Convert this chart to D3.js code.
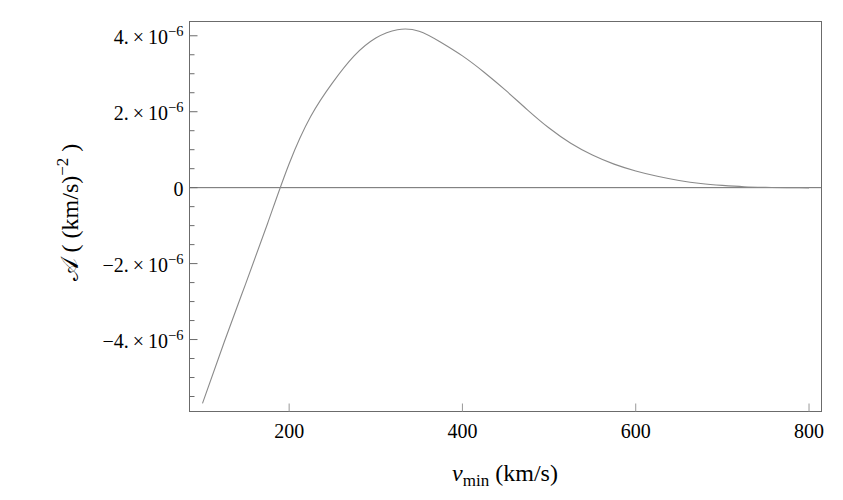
<!DOCTYPE html>
<html>
<head>
<meta charset="utf-8">
<script src="https://cdn.jsdelivr.net/npm/d3@7"></script>
<style>
  body { margin: 0; background: #fff; }
  text { font-family: "Liberation Serif", "Times New Roman", serif; fill: #000; }
</style>
</head>
<body>
<svg id="chart" width="843" height="500"></svg>
<script>
// data (A in units of 1e-6 (km/s)^-2)
var vmin = [100,125,150,175,200,225,250,275,300,325,350,375,400,425,450,475,500,525,550,575,600,625,650,675,700,725,750,775,800];
var amp  = [-5.68,-4.07,-2.52,-0.95,0.63,1.88,2.76,3.47,3.94,4.16,4.12,3.83,3.47,3.04,2.56,2.05,1.57,1.17,0.86,0.62,0.44,0.30,0.19,0.11,0.06,0.025,0.008,-0.002,-0.005];
var xTicks = [200,400,600,800];
var yTicks = [-4,-2,0,2,4];

var svg = d3.select("#chart");
var fLeft = 189.5, fRight = 821.5, fTop = 21.5, fBottom = 411.5;

var x = d3.scaleLinear().domain([85, 814.4]).range([fLeft, fRight]);
var y = d3.scaleLinear().domain([-5.895, 4.376]).range([fBottom, fTop]);

var frameColor = "#6b6b6b";

// zero line
svg.append("line")
  .attr("x1", fLeft).attr("x2", fRight)
  .attr("y1", y(0)).attr("y2", y(0))
  .attr("stroke", frameColor).attr("stroke-width", 1);

// curve
var line = d3.line()
  .x(function(d, i){ return x(vmin[i]); })
  .y(function(d){ return y(d); })
  .curve(d3.curveNatural);

svg.append("path")
  .datum(amp)
  .attr("d", line)
  .attr("fill", "none")
  .attr("stroke", "#8a8a8a")
  .attr("stroke-width", 1.1);

// frame
svg.append("rect")
  .attr("x", fLeft).attr("y", fTop)
  .attr("width", fRight - fLeft).attr("height", fBottom - fTop)
  .attr("fill", "none").attr("stroke", frameColor).attr("stroke-width", 1);

// x ticks (major only, inward)
var gx = svg.append("g");
xTicks.forEach(function(t){
  gx.append("line")
    .attr("x1", x(t)).attr("x2", x(t))
    .attr("y1", fBottom).attr("y2", fBottom - 8)
    .attr("stroke", "#999").attr("stroke-width", 1);
  gx.append("text")
    .attr("x", x(t)).attr("y", fBottom + 26)
    .attr("text-anchor", "middle")
    .attr("font-size", 20)
    .text(t);
});

// y ticks: majors with minor every 0.5
var gy = svg.append("g");
d3.range(-5.5, 4.01, 0.5).forEach(function(t){
  var major = Math.abs(t % 2) < 1e-9;
  gy.append("line")
    .attr("x1", fLeft).attr("x2", fLeft + (major ? 8 : 5))
    .attr("y1", y(t)).attr("y2", y(t))
    .attr("stroke", frameColor).attr("stroke-width", 1);
});
yTicks.forEach(function(t){
  var txt = gy.append("text")
    .attr("x", fLeft - 6).attr("y", y(t) + 8)
    .attr("text-anchor", "end")
    .attr("font-size", 20);
  if (t === 0) {
    txt.text("0");
  } else {
    txt.append("tspan").text((t < 0 ? "\u2212" : "") + Math.abs(t) + ".\u2009\u00d7\u200910");
    txt.append("tspan").attr("dy", -8).attr("font-size", 14.5).text("\u22126");
  }
});

// x label
var xl = svg.append("text")
  .attr("x", 505).attr("y", 481)
  .attr("text-anchor", "middle")
  .attr("font-size", 24);
xl.append("tspan").attr("font-style", "italic").text("v");
xl.append("tspan").attr("font-size", 17).attr("dy", 5).text("min");
xl.append("tspan").attr("dy", -5).text(" (km/s)");

// y label
var yl = svg.append("text")
  .attr("transform", "translate(78," + ((fTop + fBottom) / 2 - 4) + ") rotate(-90)")
  .attr("text-anchor", "middle")
  .attr("font-size", 24);
yl.append("tspan").text("\ud835\udc9c ( (km/s)");
yl.append("tspan").attr("dy", -10).attr("font-size", 17).text("\u22122");
yl.append("tspan").attr("dy", 10).text(" )");
</script>
</body>
</html>
